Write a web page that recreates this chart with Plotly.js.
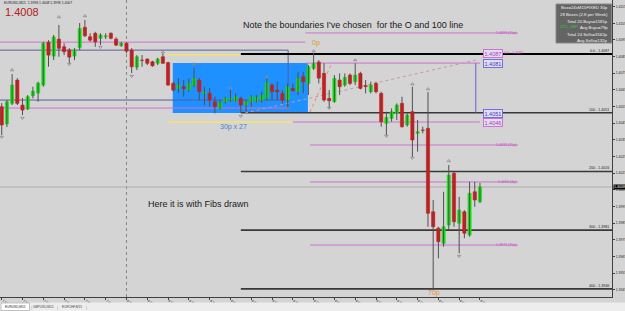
<!DOCTYPE html>
<html><head><meta charset="utf-8">
<script src="https://cdn.plot.ly/plotly-3.0.1.min.js"></script>
<style>html,body{margin:0;padding:0;background:#d4d4d4;overflow:hidden}#chart{width:625px;height:311px;}</style>
</head><body><div id="chart"></div>
<script>
// EURUSD M15, 7 Sep 2011 18:00 -> 8 Sep 2011 17:00 (bar index 0..92)
const open=[1.40549,1.40445,1.40569,1.40709,1.40559,1.40535,1.40615,1.40631,1.40679,1.40936,
1.40853,1.40955,1.40909,1.40889,1.40853,1.40904,1.41026,1.40969,1.40990,1.40960,
1.40969,1.40990,1.40955,1.40915,1.40930,1.40889,1.40786,1.40829,1.40835,1.40819,
1.40810,1.40849,1.40814,1.40689,1.40659,1.40669,1.40649,1.40679,1.40709,1.40629,
1.40629,1.40579,1.40539,1.40579,1.40589,1.40585,1.40599,1.40559,1.40579,1.40585,
1.40589,1.40599,1.40679,1.40649,1.40629,1.40589,1.40659,1.40639,1.40729,1.40689,
1.40779,1.40817,1.40749,1.40599,1.40579,1.40709,1.40679,1.40739,1.40699,1.40749,
1.40676,1.40639,1.40689,1.40629,1.40449,1.40479,1.40509,1.40569,1.40439,1.40519,
1.40389,1.40409,1.40419,1.39918,1.39819,1.39728,1.39838,1.40149,1.39849,1.39918,
1.39778,1.40038,1.39978];
const high=[1.40571,1.40589,1.40745,1.40721,1.40601,1.40619,1.40669,1.40699,1.40939,1.40949,
1.40980,1.41040,1.40930,1.40901,1.40901,1.41052,1.41070,1.40990,1.40999,1.40990,
1.40990,1.40996,1.40966,1.40939,1.40937,1.40901,1.40859,1.40859,1.40840,1.40825,
1.40843,1.40870,1.40819,1.40699,1.40721,1.40709,1.40719,1.40781,1.40721,1.40669,
1.40661,1.40609,1.40589,1.40609,1.40649,1.40629,1.40609,1.40589,1.40619,1.40619,
1.40639,1.40719,1.40689,1.40699,1.40649,1.40689,1.40689,1.40759,1.40759,1.40799,
1.40870,1.40829,1.40810,1.40649,1.40739,1.40749,1.40749,1.40749,1.40810,1.40759,
1.40709,1.40699,1.40699,1.40639,1.40519,1.40539,1.40569,1.40609,1.40509,1.40669,
1.40469,1.40429,1.40637,1.39989,1.39828,1.40038,1.40199,1.40158,1.40008,1.39928,
1.40098,1.40098,1.40091];
const low=[1.40379,1.40427,1.40559,1.40559,1.40499,1.40529,1.40599,1.40579,1.40669,1.40789,
1.40829,1.40849,1.40859,1.40810,1.40829,1.40889,1.40968,1.40939,1.40909,1.40919,
1.40955,1.40954,1.40913,1.40909,1.40870,1.40751,1.40769,1.40789,1.40799,1.40789,
1.40799,1.40805,1.40675,1.40639,1.40631,1.40609,1.40639,1.40669,1.40589,1.40559,
1.40549,1.40509,1.40533,1.40569,1.40579,1.40579,1.40513,1.40519,1.40549,1.40573,
1.40573,1.40589,1.40589,1.40589,1.40569,1.40539,1.40639,1.40619,1.40629,1.40619,
1.40769,1.40689,1.40579,1.40541,1.40573,1.40619,1.40669,1.40679,1.40679,1.40653,
1.40629,1.40629,1.40629,1.40429,1.40379,1.40459,1.40469,1.40423,1.40429,1.40247,
1.40279,1.40389,1.39828,1.39448,1.39638,1.39708,1.39808,1.39828,1.39668,1.39759,
1.39768,1.39948,1.39971];
const close=[1.40439,1.40579,1.40679,1.40569,1.40529,1.40609,1.40643,1.40691,1.40930,1.40859,
1.40968,1.40900,1.40879,1.40847,1.40889,1.41019,1.40975,1.40949,1.40939,1.40980,
1.40975,1.40960,1.40919,1.40930,1.40883,1.40789,1.40849,1.40827,1.40810,1.40795,
1.40835,1.40810,1.40679,1.40649,1.40679,1.40658,1.40689,1.40719,1.40639,1.40639,
1.40589,1.40549,1.40573,1.40599,1.40599,1.40609,1.40559,1.40579,1.40609,1.40605,
1.40619,1.40693,1.40639,1.40639,1.40589,1.40669,1.40645,1.40719,1.40699,1.40789,
1.40810,1.40721,1.40589,1.40585,1.40719,1.40669,1.40725,1.40689,1.40739,1.40659,
1.40670,1.40679,1.40639,1.40459,1.40485,1.40519,1.40559,1.40429,1.40499,1.40349,
1.40399,1.40407,1.39909,1.39828,1.39738,1.39828,1.40139,1.39858,1.39928,1.39789,
1.40029,1.39989,1.40067];
const timeLabels=["7 Sep 2011","7 Sep 19:00","7 Sep 20:00","7 Sep 21:00","7 Sep 22:00","7 Sep 23:00",
"8 Sep 00:00","8 Sep 01:00","8 Sep 02:00","8 Sep 03:00","8 Sep 04:00","8 Sep 05:00","8 Sep 06:00",
"8 Sep 07:00","8 Sep 08:00","8 Sep 09:00","8 Sep 10:00","8 Sep 11:00","8 Sep 12:00","8 Sep 13:00",
"8 Sep 14:00","8 Sep 15:00","8 Sep 16:00","8 Sep 17:00"];
const fractalUpBar=[2,11,16,31,37,44,51,60,68,79,82,86];
const fractalUpPrice=[1.40769,1.41088,1.41094,1.40877,1.40805,1.40661,1.40727,1.40883,1.40829,1.40685,1.40655,1.40223];
const fractalDnBar=[0,4,13,19,25,46,55,63,74,79,88];
const fractalDnPrice=[1.40367,1.40481,1.40805,1.40907,1.40733,1.40493,1.40541,1.40541,1.40373,1.40241,1.39652];
const fibLevels=[1.40865,1.40513,1.40160,1.39808,1.39455];
const fibNames=["0.0","100","200","300","400"];
const fibPrices=["1.4087","1.4051","1.4016","1.3981","1.3946"];
const pinkLevels=[1.40992,1.40937,1.40811,1.40541,1.40457,1.40319,1.40097,1.39718];
const pinkTexts=["1.4099 (15p)","","","","","1.4032 (15p)","1.4010 (3p)","1.3972 (15p)"];
const pinkFrom=[58.4,-0.4,58.4,-0.4,56.0,59.3,59.3,59.3];
const pinkTo=[99.3,58.4,92.0,55.1,92.0,99.3,99.3,99.3];
const boxTop=1.40811, boxBottom=1.40511, boxFrom=32.9, boxTo=58.9;
const bidPrice=1.40067;

// ---- build traces
const bars=open.map((_,i)=>i);
const up=open.map((o,i)=>close[i]>=o);
const bodyBase=open.map((o,i)=>Math.min(o,close[i]));
const bodyH=open.map((o,i)=>Math.abs(close[i]-o));
const bodyCol=up.map(u=>u?'#12e012':'#e01212');
const wx=[],wy=[];
bars.forEach(i=>{wx.push(i,i,null);wy.push(low[i],high[i],null);});

const traces=[
 {type:'scatter',mode:'lines',x:wx,y:wy,line:{color:'#505050',width:1},hoverinfo:'skip',showlegend:false},
 {type:'bar',x:bars,y:bodyH,base:bodyBase,width:0.62,marker:{color:bodyCol,line:{color:bodyCol,width:0.6}},hoverinfo:'skip',showlegend:false},
 {type:'scatter',mode:'markers',x:fractalUpBar,y:fractalUpPrice,marker:{symbol:'triangle-up-open',size:3,color:'#8a8a8a',line:{width:0.8}},hoverinfo:'skip',showlegend:false},
 {type:'scatter',mode:'markers',x:fractalDnBar,y:fractalDnPrice,marker:{symbol:'triangle-down-open',size:3,color:'#8a8a8a',line:{width:0.8}},hoverinfo:'skip',showlegend:false}
];

// ---- geometry helpers (pixel -> paper)
const PW=612, PH=297;
const px=v=>v/PW, py=v=>1-v/PH;
const FONT='Liberation Sans, Arial, sans-serif';

const shapes=[];
shapes.push({type:'rect',xref:'x',yref:'y',x0:boxFrom,x1:boxTo,y0:boxBottom,y1:boxTop,fillcolor:'#1e90ff',line:{width:0},layer:'below'});
shapes.push({type:'line',xref:'x',yref:'y',x0:32.0,x1:46.0,y0:1.40859,y1:1.40859,line:{color:'#ece08a',width:2},layer:'below'});
shapes.push({type:'line',xref:'x',yref:'y',x0:32.0,x1:56.0,y0:1.40457,y1:1.40457,line:{color:'#ece08a',width:2},layer:'below'});
shapes.push({type:'line',xref:'x',yref:'y',x0:-0.4,x1:55.1,y0:1.40889,y1:1.40889,line:{color:'#5c5c9c',width:1},layer:'below'});
shapes.push({type:'line',xref:'x',yref:'y',x0:-0.4,x1:55.1,y0:1.40589,y1:1.40589,line:{color:'#5c5c9c',width:1},layer:'below'});
shapes.push({type:'line',xref:'x',yref:'y',x0:55.1,x1:55.1,y0:1.40889,y1:1.40541,line:{color:'#5c5c9c',width:1},layer:'below'});
pinkLevels.forEach((v,i)=>shapes.push({type:'line',xref:'x',yref:'y',x0:pinkFrom[i],x1:pinkTo[i],y0:v,y1:v,line:{color:'#d070d0',width:1},layer:'below'}));
shapes.push({type:'line',xref:'x',yref:'paper',x0:24,x1:24,y0:0,y1:1,line:{color:'#858585',width:1,dash:'dot'},layer:'below'});
shapes.push({type:'line',xref:'paper',yref:'y',x0:0,x1:1,y0:bidPrice,y1:bidPrice,line:{color:'#b0b0b0',width:1},layer:'below'});
fibLevels.forEach((v,i)=>shapes.push({type:'line',xref:'x',yref:'y',x0:46.0,x1:117.4,y0:v,y1:v,line:{color:i===0?'#000000':'#383838',width:i===0?2:1.6},layer:'below'}));
shapes.push({type:'line',xref:'x',yref:'y',x0:46.8,x1:91.2,y0:1.40511,y1:1.40829,line:{color:'#c49a9a',width:1,dash:'dot'},layer:'below'});
shapes.push({type:'line',xref:'x',yref:'y',x0:59.3,x1:63.5,y0:1.40517,y1:1.40811,line:{color:'#e08a70',width:1,dash:'dot'},layer:'below'});
shapes.push({type:'line',xref:'x',yref:'y',x0:91.2,x1:91.2,y0:1.40811,y1:1.40513,line:{color:'#6a5acd',width:1},layer:'below'});
shapes.push({type:'rect',xref:'paper',yref:'paper',x0:px(556),x1:px(611.5),y0:py(43),y1:py(4),fillcolor:'#646464',line:{color:'#8a8a8a',width:1},layer:'above'});
shapes.push({type:'rect',xref:'paper',yref:'paper',x0:-0.01,x1:px(626),y0:py(311),y1:py(302.5),fillcolor:'#ededed',line:{width:0},layer:'above'});
shapes.push({type:'rect',xref:'paper',yref:'paper',x0:px(1),x1:px(29.5),y0:py(310.5),y1:py(303),fillcolor:'#ffffff',line:{color:'#9a9a9a',width:0.6},layer:'above'});

const ann=[];
function A(text,x,y,size,color,xa,extra){ann.push(Object.assign({text:text,xref:'paper',yref:'paper',x:px(x),y:py(y),xanchor:xa||'center',yanchor:'middle',showarrow:false,font:{family:FONT,size:size,color:color}},extra||{}));}
A('EURUSD,M15  1.3998 1.4008 1.3998 1.4007',2,3,3.4,'#222','left');
A('1.4008',2.5,12.5,11,'#b02020','left');
A("Note the boundaries I've chosen&nbsp;&nbsp;for the O and 100 line",353,25,9,'#1a1a1a','center');
A('Here it is with Fibs drawn',198.5,204,9,'#1a1a1a','center');
A('0p',316,43,7,'#e0962e','center');
A('70p',434,293,7,'#e0962e','center');
A('30p x 27',234,127,7,'#3a84d0','center');
const infoLines=['Box=24xM15FIXED 30p','28 Boxes (2.8 per Week)','Total 20 Buys=1581p','Avg Buys=79p','Total 24 Sells=3162p','Avg Sells=132p'];
const infoY=[8,14.5,21,27.5,34,40];
infoLines.forEach((t,i)=>A(t,609.5,infoY[i],4.3,'#f2f2f2','right'));
A('UTC_GMT',557.5,27.5,3.8,'#3cc43c','left');
fibLevels.forEach((v,i)=>ann.push({text:fibNames[i]+' - '+fibPrices[i],xref:'paper',yref:'y',x:px(610.5),y:v,xanchor:'right',yanchor:'bottom',yshift:-1,showarrow:false,font:{family:FONT,size:3.6,color:'#202020'}}));
A('0.0 - 1.4087',502,52.5,3.6,'#c050c0','left');
pinkLevels.forEach((v,i)=>{if(pinkTexts[i])ann.push({text:pinkTexts[i],xref:'x',yref:'y',x:pinkTo[i],y:v,xanchor:'right',yanchor:'middle',showarrow:false,font:{family:FONT,size:3.6,color:'#c050c0'}});});
function tag(t,x,y,col,bd){ann.push({text:t,xref:'paper',yref:'paper',x:px(x),y:py(y),xanchor:'center',yanchor:'middle',showarrow:false,bgcolor:'#e4dcf0',bordercolor:bd,borderwidth:1,borderpad:0.5,font:{family:FONT,size:5.5,color:col}});}
tag('1.4087',493,53.5,'#a040c0','#d070d0');
tag('1.4081',493,63.5,'#4040c0','#7070e0');
tag('1.4051',493,113.5,'#4040c0','#7070e0');
tag('1.4046',493,122.5,'#a040c0','#d070d0');
ann.push({text:'1.4008',xref:'paper',yref:'y',x:1,y:bidPrice,xanchor:'left',yanchor:'middle',xshift:1,showarrow:false,bgcolor:'#000',borderpad:0,font:{family:FONT,size:3.6,color:'#fff'}});
A('EURUSD,M15',15,307,3.2,'#222','center');
A('GBPUSD,M15',43,307,3.2,'#444','center');
A('EURCHF,M15',72,307,3.2,'#444','center');
A('|',31,307,4,'#999','center');A('|',57.5,307,4,'#999','center');A('|',86,307,4,'#999','center');

const layout={
 width:625,height:311,margin:{l:0,r:13,t:0,b:14,pad:0},
 paper_bgcolor:'#d4d4d4',plot_bgcolor:'#d4d4d4',showlegend:false,
 xaxis:{range:[-0.33,117.4],showgrid:false,zeroline:false,automargin:false,
   tickvals:timeLabels.map((_,i)=>i*4),ticktext:timeLabels,ticks:'outside',ticklen:2,tickwidth:1,tickcolor:'#404040',
   ticklabelposition:'outside right',tickfont:{family:FONT,size:3,color:'#202020'},
   showline:true,linecolor:'#404040',linewidth:1,fixedrange:true},
 yaxis:{range:[1.39406,1.41190],side:'right',showgrid:false,zeroline:false,automargin:false,
   tick0:1.3945,dtick:0.001,tickformat:'.4f',ticks:'outside',ticklen:2,tickwidth:1,tickcolor:'#404040',
   tickfont:{family:FONT,size:3.4,color:'#202020'},showline:true,linecolor:'#404040',linewidth:1,fixedrange:true},
 shapes:shapes,annotations:ann,bargap:0
};
Plotly.newPlot('chart',traces,layout,{staticPlot:true,displayModeBar:false});
</script></body></html>
